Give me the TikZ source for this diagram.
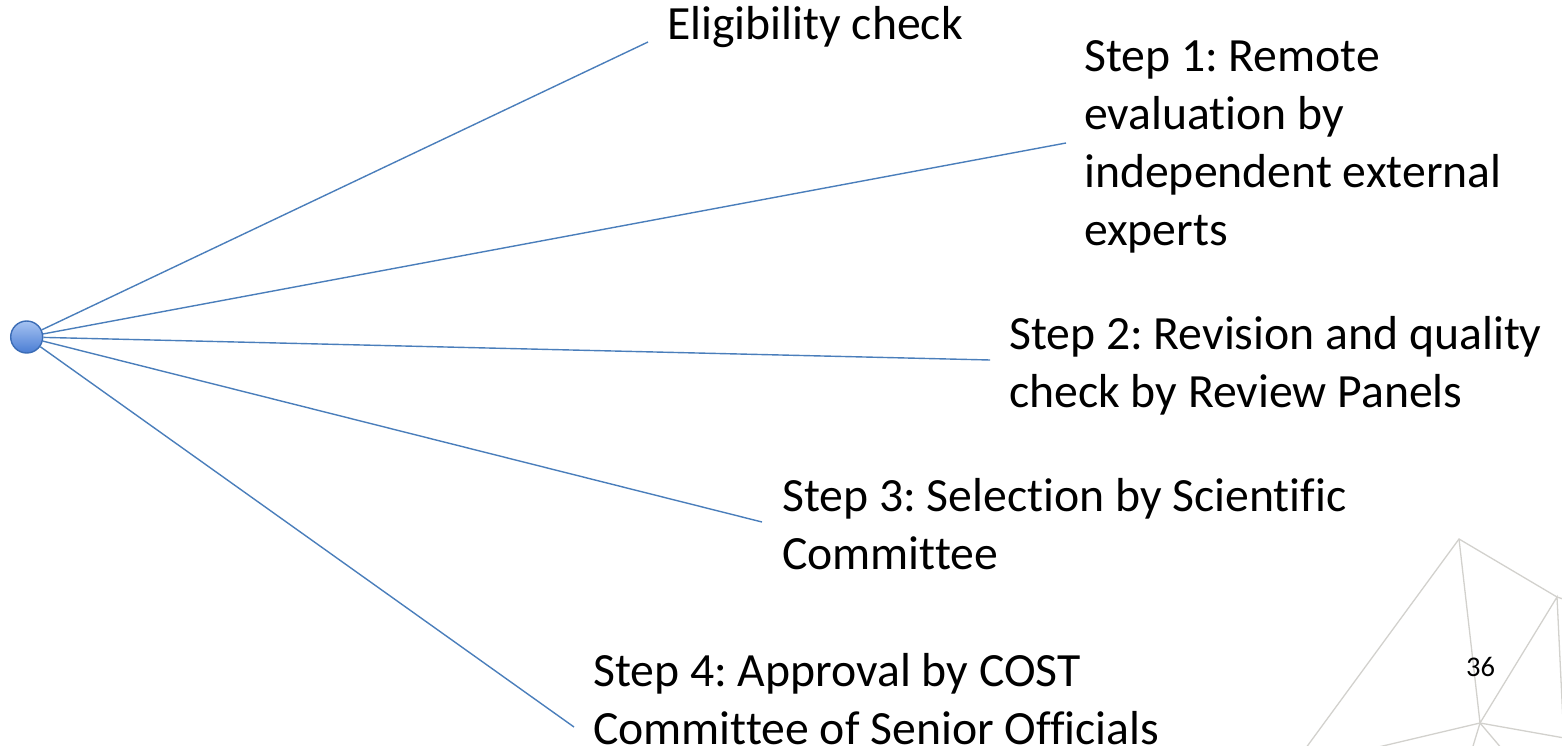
\documentclass[tikz,border=0pt]{standalone}
\usepackage{fontspec}
\setmainfont{Carlito}[Ligatures=NoCommon]
\frenchspacing
\definecolor{linkblue}{HTML}{4A7EBB}
\definecolor{hubtop}{HTML}{A6C3F2}
\definecolor{hubbot}{HTML}{4A7DD3}
\definecolor{hubedge}{HTML}{3B6CB5}
\definecolor{meshgray}{HTML}{D2D1CD}
\newcommand{\bigtext}{\fontsize{47.7}{58}\selectfont}
\begin{document}
\begin{tikzpicture}[x=1pt,y=-1pt,
  link/.style={draw=linkblue,line width=1.4pt},
  lbl/.style={anchor=base west,inner sep=0pt,font=\bigtext},
  mesh/.style={draw=meshgray,line width=1.3pt}]
\useasboundingbox (0,0) rectangle (1562,746);
% mesh decoration
\begin{scope}
\clip (0,0) rectangle (1562,746);
\coordinate (mA) at (1459,539);
\coordinate (mB) at (1557,597);
\coordinate (mC) at (1480,723);
\coordinate (m1) at (1300,756);
\coordinate (m2) at (1566,600);
\coordinate (m3) at (1563,722);
\coordinate (m4) at (1370,749);
\coordinate (m5) at (1570,739);
\coordinate (m6) at (1470,756);
\coordinate (m7) at (1508,756);
\draw[mesh] (m1) -- (mA) -- (mB) -- (m2);
\draw[mesh] (mA) -- (mC) -- (mB) -- (m3);
\draw[mesh] (m4) -- (mC) -- (m5);
\draw[mesh] (m6) -- (mC) -- (m7);
\end{scope}
% hub
\node[circle,minimum size=32pt,inner sep=0pt,draw=hubedge,line width=1.4pt,
      top color=hubtop,bottom color=hubbot] (hub) at (26.7,337) {};
% connector ends
\coordinate (e0) at (648,42);
\coordinate (e1) at (1066,143);
\coordinate (e2) at (990,360);
\coordinate (e3) at (762,522);
\coordinate (e4) at (574,727);
\draw[link] (hub) -- (e0);
\draw[link] (hub) -- (e1);
\draw[link] (hub) -- (e2);
\draw[link] (hub) -- (e3);
\draw[link] (hub) -- (e4);
% labels
\node[lbl] (t0) at (667,40) {Eligibility check};
\node[lbl] (t1) at (1084,72) {\vtop{\bigtext\hbox{Step 1: Remote}\hbox{evaluation by}\hbox{independent external}\hbox{experts}}};
\node[lbl] (t2) at (1009,349) {\vtop{\bigtext\hbox{Step 2: Revision and quality}\hbox{check by Review Panels}}};
\node[lbl] (t3) at (782,511) {\vtop{\bigtext\hbox{Step 3: Selection by Scientific}\hbox{Committee}}};
\node[lbl] (t4) at (593,686) {\vtop{\bigtext\hbox{Step 4: Approval by COST}\hbox{Committee of Senior Officials}}};
\node[anchor=base west,inner sep=0pt,font=\fontsize{28.5}{34}\selectfont] (pg) at (1466,676) {36};
\end{tikzpicture}
\end{document}
